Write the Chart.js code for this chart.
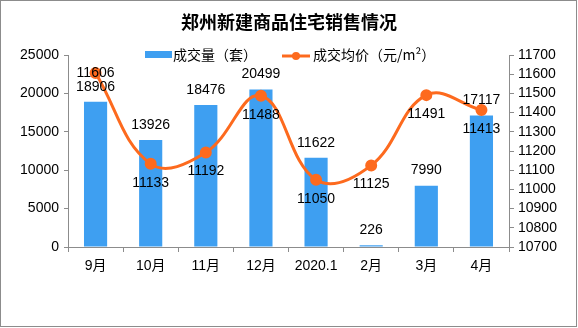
<!DOCTYPE html>
<html>
<head>
<meta charset="utf-8">
<script src="https://cdn.jsdelivr.net/npm/chart.js@4.4.0/dist/chart.umd.min.js"></script>
<style>
  body { margin: 0; background: #fff; }
  #wrap { width: 578px; height: 328px; position: relative; }
</style>
</head>
<body>
<div id="wrap"><canvas id="c"></canvas></div>
<script>
// donnees
const mois = ['9月', '10月', '11月', '12月', '2020.1', '2月', '3月', '4月'];
const volume = [18906, 13926, 18476, 20499, 11622, 226, 7990, 17117];
const prix = [11606, 11133, 11192, 11488, 11050, 11125, 11491, 11413];
const ticksGauche = [0, 5000, 10000, 15000, 20000, 25000];
const ticksDroite = [10700, 10800, 10900, 11000, 11100, 11200, 11300, 11400, 11500, 11600, 11700];

const bleu = '#3e9ff1';
const orange = '#fd6a1e';
const gris = '#8c8c8c';
const police = '"Liberation Sans", "Noto Sans CJK SC", sans-serif';
const policeCJK = '"Noto Sans CJK SC", sans-serif';

// titre, legende, etiquettes, bordure
const deco = {
  id: 'deco',
  afterDatasetsDraw(chart) {
    const ctx = chart.ctx;
    ctx.save();
    ctx.font = '14px ' + police;
    ctx.fillStyle = '#000';
    ctx.textAlign = 'center';
    ctx.textBaseline = 'middle';
    // etiquettes barres (dataset 1)
    const barres = chart.getDatasetMeta(1).data;
    barres.forEach((b, i) => {
      ctx.fillText(String(volume[i]), b.x, b.y - 15);
    });
    // etiquettes ligne (dataset 0)
    const pts = chart.getDatasetMeta(0).data;
    pts.forEach((p, i) => {
      let y = p.y + 19;
      if (i === 0) y = p.y;
      ctx.fillText(String(prix[i]), p.x, y);
    });

    // titre
    ctx.font = 'bold 18px ' + policeCJK;
    ctx.fillText('郑州新建商品住宅销售情况', 289, 22);

    // legende
    ctx.fillStyle = bleu;
    ctx.fillRect(145, 51, 27, 7);
    ctx.fillStyle = '#000';
    ctx.textAlign = 'left';
    ctx.font = '14px ' + policeCJK;
    ctx.fillText('成交量（套）', 173, 55);
    ctx.strokeStyle = orange;
    ctx.lineWidth = 3;
    ctx.beginPath();
    ctx.moveTo(282, 56);
    ctx.lineTo(310, 56);
    ctx.stroke();
    ctx.fillStyle = orange;
    ctx.beginPath();
    ctx.arc(296, 56, 4, 0, Math.PI * 2);
    ctx.fill();
    ctx.fillStyle = '#000';
    ctx.fillText('成交均价（元/m²）', 313, 55);

    // bordure
    ctx.strokeStyle = gris;
    ctx.lineWidth = 1;
    ctx.strokeRect(0.5, 0.5, 576, 326);
    ctx.restore();
  }
};

const ctx = document.getElementById('c').getContext('2d');
const graph = new Chart(ctx, {
  data: {
    labels: mois,
    datasets: [
      {
        type: 'line',
        label: '成交均价（元/m²）',
        data: prix,
        yAxisID: 'y1',
        borderColor: orange,
        backgroundColor: orange,
        borderWidth: 3,
        tension: 0.4,
        pointRadius: 4.5,
        pointBackgroundColor: orange,
        pointBorderColor: orange,
        order: 0
      },
      {
        type: 'bar',
        label: '成交量（套）',
        data: volume,
        yAxisID: 'y',
        backgroundColor: bleu,
        barPercentage: 0.42,
        categoryPercentage: 1,
        order: 1
      }
    ]
  },
  options: {
    responsive: true,
    maintainAspectRatio: false,
    animation: false,
    layout: { padding: { top: 55, left: 0, right: 0, bottom: 0 } },
    plugins: { legend: { display: false }, tooltip: { enabled: false } },
    scales: {
      x: {
        grid: { display: true, drawOnChartArea: false, color: gris, tickLength: 5, offset: true },
        border: { color: gris },
        ticks: { color: '#000', font: { size: 14, family: police }, padding: 6 },
        afterFit(s) { s.height = 81; }
      },
      y: {
        position: 'left',
        min: 0, max: 25000,
        afterBuildTicks(s) { s.ticks = ticksGauche.map(v => ({ value: v })); },
        grid: { drawOnChartArea: false, color: gris, tickLength: 4 },
        border: { color: gris },
        ticks: { color: '#000', font: { size: 14, family: police }, padding: 5, autoSkip: false,
          callback: v => String(v) },
        afterFit(s) { s.width = 68; }
      },
      y1: {
        position: 'right',
        min: 10700, max: 11700,
        afterBuildTicks(s) { s.ticks = ticksDroite.map(v => ({ value: v })); },
        grid: { drawOnChartArea: false, color: gris, tickLength: 5 },
        border: { color: gris },
        ticks: { color: '#000', font: { size: 14, family: police }, padding: 4, autoSkip: false,
          callback: v => String(v) },
        afterFit(s) { s.width = 69; }
      }
    }
  },
  plugins: [deco]
});
</script>
</body>
</html>
